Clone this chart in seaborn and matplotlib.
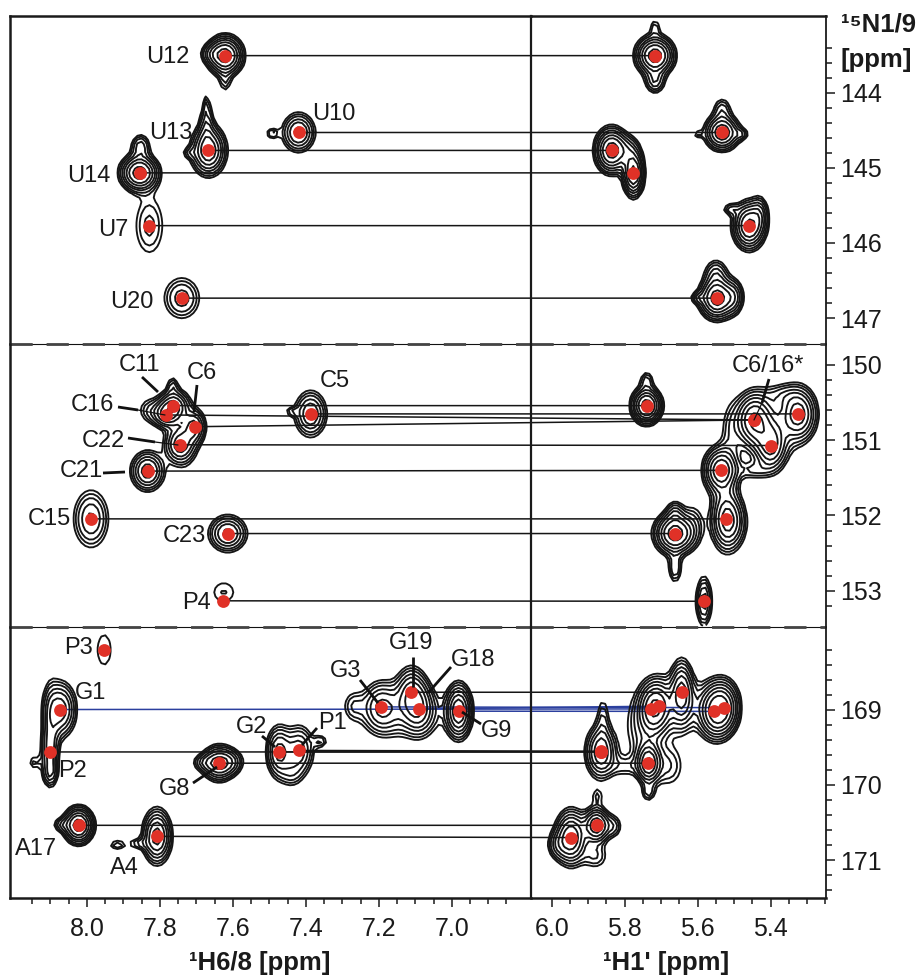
import numpy as np
import pandas as pd
import matplotlib
matplotlib.use("Agg")
import matplotlib.pyplot as plt
from matplotlib.patches import ConnectionPatch
from matplotlib.lines import Line2D
import seaborn as sns

# ---- assigned peaks: name, H6/8, N at H6/8, H1', N at H1'
names_top = ["U12", "U10", "U13", "U14", "U7", "U20"]
h68_top = [7.621, 7.420, 7.667, 7.856, 7.829, 7.740]
n68_top = [143.504, 144.528, 144.767, 145.066, 145.769, 146.735]
h1_top = [5.717, 5.533, 5.836, 5.776, 5.459, 5.547]
n1_top = [143.504, 144.528, 144.767, 145.066, 145.769, 146.735]

names_mid = ["C11", "C16", "C6", "C5", "C22", "C21", "C15", "C23", "P4"]
h68_mid = [7.763, 7.784, 7.705, 7.387, 7.746, 7.834, 7.989, 7.614, 7.627]
n68_mid = [150.54, 150.664, 150.82, 150.65, 151.06, 151.41, 152.045, 152.24, 153.134]
h1_mid = [5.740, 5.445, 5.445, 5.324, 5.400, 5.537, 5.522, 5.662, 5.583]
n1_mid = [150.54, 150.73, 150.73, 150.65, 151.07, 151.40, 152.045, 152.24, 153.14]

names_bot = ["G1", "P2", "G8", "A17", "A4", "G2", "P1", "G3", "G19", "G18", "G9"]
h68_bot = [8.073, 8.102, 7.638, 8.023, 7.808, 7.474, 7.418, 7.193, 7.111, 7.090, 6.981]
n68_bot = [168.995, 169.56, 169.71, 170.537, 170.684, 169.559, 169.54, 168.96, 168.765, 168.987, 169.017]
h1_bot = [5.729, 5.865, 5.735, 5.877, 5.947, 5.865, 5.865, 5.528, 5.644, 5.705, 5.555]
n1_bot = [168.987, 169.56, 169.71, 170.537, 170.70, 169.56, 169.55, 168.97, 168.765, 168.95, 169.02]
blue_bot = ["G1", "G3", "G18", "G9"]

p3_h = [7.953]
p3_n = [168.197]

# ---- contour surface components: H, N, height, width H, width N
left_top = [
    (7.621, 143.504, 1.0, .026, .14), (7.621, 143.86, .15, .012, .10), (7.66, 143.48, .2, .018, .08),
    (7.420, 144.528, .5, .026, .15), (7.492, 144.54, .2, .012, .05),
    (7.667, 144.767, .8, .026, .18), (7.672, 144.4, .25, .012, .17), (7.672, 144.15, .13, .006, .10),
    (7.72, 144.8, .15, .012, .05),
    (7.856, 145.066, 1.0, .028, .13), (7.853, 144.71, .3, .016, .10),
    (7.829, 145.769, .2, .030, .30),
    (7.740, 146.735, .3, .032, .18),
]
right_top = [
    (5.717, 143.504, 1.0, .028, .14), (5.717, 143.12, .15, .010, .08), (5.717, 143.85, .3, .017, .10),
    (5.533, 144.528, .8, .026, .13), (5.533, 144.21, .2, .016, .10), (5.48, 144.55, .2, .012, .05),
    (5.60, 144.55, .15, .010, .03),
    (5.836, 144.767, 1.0, .024, .16), (5.776, 145.066, .9, .016, .17), (5.79, 144.75, .2, .020, .12),
    (5.459, 145.769, .9, .024, .17), (5.43, 145.6, .25, .014, .14), (5.51, 145.55, .2, .014, .05),
    (5.547, 146.735, 1.0, .026, .15), (5.55, 146.4, .25, .020, .12), (5.60, 146.73, .2, .012, .05),
    (5.50, 146.72, .3, .016, .14),
    (5.836, 143.99, .105, .003, .07),
]
left_mid = [
    (7.763, 150.54, .6, .024, .12), (7.784, 150.664, .5, .022, .10), (7.765, 150.27, .18, .010, .08),
    (7.83, 150.60, .16, .022, .12),
    (7.705, 150.82, .45, .018, .13), (7.746, 151.06, .45, .024, .14), (7.735, 150.95, .14, .028, .30),
    (7.834, 151.41, .55, .026, .15), (7.989, 152.045, .35, .030, .24),
    (7.614, 152.24, .5, .030, .14), (7.387, 150.65, .45, .026, .18), (7.44, 150.62, .14, .012, .04),
    (7.614, 151.10, .13, .007, .05), (7.625, 153.02, .14, .032, .146),
]
right_mid = [
    (5.740, 150.54, 1.0, .022, .13), (5.74, 150.2, .2, .012, .08),
    (5.445, 150.73, .8, .028, .20), (5.324, 150.65, .7, .028, .20), (5.400, 151.07, .6, .024, .19),
    (5.37, 150.4, .14, .030, .10), (5.51, 150.9, .14, .020, .30), (5.40, 150.85, .18, .050, .30),
    (5.537, 151.40, .8, .026, .17), (5.45, 151.4, .16, .030, .08),
    (5.522, 152.045, .6, .024, .24), (5.50, 152.1, .2, .024, .20),
    (5.662, 152.24, 1.0, .030, .15), (5.662, 152.7, .25, .012, .13), (5.662, 151.95, .2, .015, .10),
    (5.61, 152.1, .13, .020, .20), (5.583, 153.14, .4, .013, .20),
]
left_bot = [
    (7.953, 168.20, .14, .022, .24),
    (8.073, 168.995, .55, .025, .21), (8.102, 169.56, .35, .015, .25), (8.10, 169.1, .14, .014, .35),
    (8.10, 169.85, .2, .012, .10), (8.145, 169.7, .15, .012, .07),
    (7.638, 169.71, .7, .026, .13), (7.6, 169.69, .2, .020, .10), (7.68, 169.7, .2, .020, .07),
    (8.023, 170.537, 1.0, .022, .13), (8.07, 170.53, .2, .015, .06),
    (7.808, 170.684, .7, .022, .20), (7.917, 170.8, .18, .016, .05), (7.86, 170.78, .16, .020, .05),
    (7.474, 169.559, .5, .020, .20), (7.418, 169.54, .4, .024, .20), (7.36, 169.42, .18, .014, .06),
    (7.44, 169.85, .16, .020, .12),
    (7.193, 168.96, .4, .030, .20), (7.111, 168.765, .45, .025, .20), (7.090, 168.987, .4, .025, .20),
    (7.13, 169.05, .2, .070, .22),
    (6.981, 169.017, .8, .020, .20), (7.27, 168.95, .16, .020, .14),
    (7.83, 169.72, .105, .002, .02),
]
right_bot = [
    (5.555, 169.02, .7, .024, .20), (5.528, 168.97, .7, .024, .20),
    (5.644, 168.765, .6, .018, .24), (5.729, 168.987, .45, .020, .20), (5.705, 168.95, .45, .020, .20),
    (5.75, 169.3, .16, .035, .30), (5.66, 168.95, .2, .070, .25),
    (5.865, 169.56, .6, .024, .20), (5.8, 169.75, .14, .030, .10), (5.86, 169.1, .16, .012, .20),
    (5.735, 169.71, .8, .018, .15), (5.735, 170.1, .2, .012, .08), (5.68, 169.75, .18, .030, .20),
    (5.877, 170.537, .8, .020, .13), (5.875, 170.15, .14, .012, .08), (5.83, 170.55, .2, .015, .10),
    (5.947, 170.70, .8, .024, .20), (5.985, 170.8, .2, .018, .12), (5.88, 170.95, .18, .024, .12),
]
contour_levels = [0.10, 0.135, 0.18, 0.25, 0.33, 0.45, 0.60, 0.82]

labels_px = {
    "U12": (168, 57), "U10": (334, 114), "U13": (171, 133), "U14": (89, 176), "U7": (113, 230), "U20": (132, 302),
    "C11": (139, 365), "C6": (202, 373), "C5": (335, 381), "C16": (92, 405), "C22": (103, 441), "C21": (81, 471),
    "C15": (49, 519), "C23": (184, 536), "P4": (196, 603), "C6/16*": (768, 366),
    "P3": (79, 648), "G1": (91, 693), "P2": (73, 771), "G2": (252, 727), "P1": (332, 723), "G3": (346, 671),
    "G19": (411, 643), "G18": (473, 660), "G9": (497, 731), "G8": (175, 789), "A17": (36, 849), "A4": (124, 868),
}
leaders_thick = [
    ((142, 377), (158, 392)), ((118, 407), (138, 410)), ((197, 385), (194, 412)), ((128, 438), (155, 442)),
    ((103, 473), (125, 472)), ((769, 379), (762, 403)), ((360, 680), (378, 703)), ((413, 657), (413, 687)),
    ((451, 667), (428, 693)), ((481, 724), (462, 712)), ((262, 736), (275, 747)), ((317, 728), (302, 745)),
    ((193, 783), (217, 767)),
]
leaders_thin = [((138, 410), (165, 415)), ((155, 442), (178, 445)), ((762, 403), (754, 420))]

W, H = 919, 976
RED = "#E03127"
BLUE = "#2B3F9E"
INK = "#1a1a1a"

sns.set_theme(style="white")
plt.rcParams["font.family"] = ["Liberation Sans", "DejaVu Sans"]
plt.rcParams["text.color"] = INK
fig = plt.figure(figsize=(W / 100, H / 100), dpi=100, facecolor="white")


def box(x0, y0, x1, y1):
    return [x0 / W, 1 - y1 / H, (x1 - x0) / W, (y1 - y0) / H]


def fx(x):
    return x / W


def fy(y):
    return 1 - y / H


XL = (8.2110, 6.7836)
XR = (6.0575, 5.2485)
YS = [(142.976, 147.346), (149.721, 153.482), (167.896, 171.505)]
PY = [(16, 344), (344, 627), (627, 898)]
LEFT, MID, RIGHT = 10, 530.7, 826

rows = []
for r in range(3):
    axL = fig.add_axes(box(LEFT, PY[r][0], MID, PY[r][1]))
    axR = fig.add_axes(box(MID, PY[r][0], RIGHT, PY[r][1]))
    rows.append((axL, axR))


def surface(ax, comps):
    x0, x1 = ax.get_xlim()
    y0, y1 = ax.get_ylim()
    xs = np.arange(min(x0, x1), max(x0, x1), 0.011)
    ys = np.arange(min(y0, y1), max(y0, y1), 0.055)
    X, Y = np.meshgrid(xs, ys)
    Z = np.zeros_like(X)
    for cx, cy, a, sx, sy in comps:
        Z += a * np.exp(-0.5 * ((X - cx) / sx) ** 2 - 0.5 * ((Y - cy) / sy) ** 2)
    ax.contour(X, Y, Z, levels=contour_levels, colors="#151515", linewidths=1.35, zorder=2)


def style(ax, is_left, r, major_y, minor_y):
    for s in ax.spines.values():
        s.set_visible(False)
        s.set_color(INK)
    ax.patch.set_alpha(0)
    if r == 0:
        ax.spines["top"].set_visible(True)
        ax.spines["top"].set_linewidth(1.8)
    if r == 2:
        ax.spines["bottom"].set_visible(True)
        ax.spines["bottom"].set_linewidth(1.8)
    if is_left:
        ax.spines["left"].set_visible(True)
        ax.spines["left"].set_linewidth(1.8)
        ax.spines["right"].set_visible(True)
        ax.spines["right"].set_linewidth(1.6)
        ax.set_yticks([])
    else:
        ax.spines["right"].set_visible(True)
        ax.spines["right"].set_linewidth(1.3)
        ax.yaxis.tick_right()
        ax.set_yticks(major_y)
        ax.set_yticks(minor_y, minor=True)
        ax.set_yticklabels([f"{v:g}" for v in major_y])
        ax.tick_params(axis="y", which="major", length=6.5, width=1.1, color=INK, pad=4,
                       labelsize=18, labelcolor=INK, right=True, left=False)
        ax.tick_params(axis="y", which="minor", length=4.3, width=1.1, color=INK, right=True, left=False)
    if r == 2:
        if is_left:
            mj = [8.0, 7.8, 7.6, 7.4, 7.2, 7.0]
            mn = np.arange(6.85, 8.16, 0.05)
        else:
            mj = [6.0, 5.8, 5.6, 5.4]
            mn = np.arange(5.25, 5.96, 0.05)
        ax.set_xticks(mj)
        ax.set_xticks(mn, minor=True)
        ax.set_xticklabels([f"{v:.1f}" for v in mj])
        ax.tick_params(axis="x", which="major", length=6.5, width=1.1, color=INK, pad=7,
                       labelsize=18, labelcolor=INK, bottom=True)
        ax.tick_params(axis="x", which="minor", length=4.3, width=1.1, color=INK, bottom=True)
    else:
        ax.set_xticks([])
        # separator: thin rule with long dark dashes on top
        yb = ax.get_ylim()[0]
        ax.axhline(yb, color="#111111", lw=0.8, clip_on=False, zorder=5)
        ax.axhline(yb, color="#444444", lw=2.0, clip_on=False, zorder=6, dashes=(8, 5))


yticks = [
    ([144, 145, 146, 147], np.arange(143.4, 147.01, 0.2)),
    ([150, 151, 152, 153], np.arange(150.0, 153.21, 0.2)),
    ([169, 170, 171], np.arange(168.2, 171.41, 0.2)),
]
left_sets = [left_top, left_mid, left_bot]
right_sets = [right_top, right_mid, right_bot]
frames = [
    pd.DataFrame({"name": names_top, "h68": h68_top, "n68": n68_top, "h1": h1_top, "n1": n1_top}),
    pd.DataFrame({"name": names_mid, "h68": h68_mid, "n68": n68_mid, "h1": h1_mid, "n1": n1_mid}),
    pd.DataFrame({"name": names_bot, "h68": h68_bot, "n68": n68_bot, "h1": h1_bot, "n1": n1_bot}),
]

for r, (axL, axR) in enumerate(rows):
    df = frames[r]
    for ax, xl in ((axL, XL), (axR, XR)):
        ax.set_xlim(*xl)
        ax.set_ylim(YS[r][1], YS[r][0])
    surface(axL, left_sets[r])
    surface(axR, right_sets[r])
    for _, p in df.iterrows():
        con = ConnectionPatch(xyA=(p.h68, p.n68), coordsA=axL.transData,
                              xyB=(p.h1, p.n1), coordsB=axR.transData,
                              color=BLUE if p["name"] in blue_bot else "#151515",
                              lw=1.1, zorder=1, clip_on=False)
        axL.add_artist(con)
    sns.scatterplot(data=df, x="h68", y="n68", ax=axL, color=RED, s=85, linewidth=0, legend=False, zorder=4)
    sns.scatterplot(data=df, x="h1", y="n1", ax=axR, color=RED, s=85, linewidth=0, legend=False, zorder=4)
    if r == 2:
        sns.scatterplot(x=p3_h, y=p3_n, ax=axL, color=RED, s=85, linewidth=0, legend=False, zorder=4)
    for ax in (axL, axR):
        ax.set_xlabel("")
        ax.set_ylabel("")
        ax.set_xlim(*(XL if ax is axL else XR))
        ax.set_ylim(YS[r][1], YS[r][0])
    style(axL, True, r, *yticks[r])
    style(axR, False, r, *yticks[r])

for name, (x, y) in labels_px.items():
    fig.text(fx(x), fy(y), name, ha="center", va="center", fontsize=17, color=INK)

for (a, b) in leaders_thick:
    fig.add_artist(Line2D([fx(a[0]), fx(b[0])], [fy(a[1]), fy(b[1])], color="#111111", lw=2.0,
                          solid_capstyle="butt"))
for (a, b) in leaders_thin:
    fig.add_artist(Line2D([fx(a[0]), fx(b[0])], [fy(a[1]), fy(b[1])], color="#111111", lw=0.9))

bold = dict(fontweight="bold", fontsize=18.5, color=INK)
fig.text(fx(260), fy(963), "¹H6/8 [ppm]", ha="center", va="center", **bold)
fig.text(fx(666), fy(963), "¹H1' [ppm]", ha="center", va="center", **bold)
fig.text(fx(841), fy(24), "¹⁵N1/9", ha="left", va="center", **bold)
fig.text(fx(841), fy(60), "[ppm]", ha="left", va="center", **bold)

fig.savefig("out.png", dpi=100, facecolor="white")
